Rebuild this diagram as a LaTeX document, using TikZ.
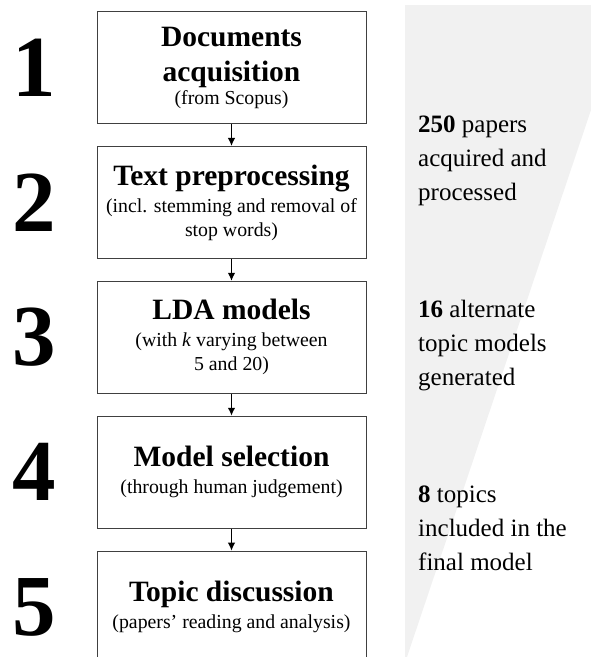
\documentclass[tikz,border=0pt]{standalone}
\usepackage{fontspec}
\setmainfont{Liberation Serif}
\usepackage{tikz}
\usetikzlibrary{arrows.meta,positioning}
\definecolor{bandgray}{HTML}{F1F1F1}
\newcommand{\steptitle}{\fontsize{29.5}{35}\selectfont\bfseries}
\newcommand{\stepsub}{\fontsize{19.8}{24}\selectfont\mdseries}
\tikzset{
  box/.style={draw=black!75, line width=0.9pt, align=center, inner sep=0pt, minimum width=269pt, minimum height=112pt, font=\steptitle},
  num/.style={inner sep=0pt, font=\fontsize{87}{87}\selectfont\bfseries},
  note/.style={inner sep=0pt, align=left, anchor=base west, font=\fontsize{25}{34}\selectfont},
  arrow/.style={-{Latex[length=8pt,width=7.5pt]}, line width=1.2pt},
}

\begin{document}
\begin{tikzpicture}[node distance=22pt]
  \useasboundingbox (0pt,0pt) rectangle (591pt,-657pt);
  % BACKGROUND BAND
  \fill[bandgray] (405pt,-5pt) -- (591pt,-5pt) -- (591pt,-110pt) -- (407pt,-657pt) -- (405pt,-657pt) -- cycle;

  % STEPS
  \node[box] (acq) at (231.5pt,-67.5pt) {Documents\\acquisition\\[-12pt]{\stepsub (from Scopus)}};
  \node[box, below=of acq] (prep) {Text preprocessing\\[-8pt]{\stepsub (incl. stemming and removal of}\\[-11pt]{\stepsub stop words)}};
  \node[box, below=of prep] (lda) {LDA models\\[-8pt]{\stepsub (with \textit{k} varying between}\\[-11pt]{\stepsub 5 and 20)}};
  \node[box, below=of lda] (sel) {Model selection\\[-8pt]{\stepsub (through human judgement)}};
  \node[box, below=of sel] (disc) {Topic discussion\\[-8pt]{\stepsub (papers’ reading and analysis)}};

  \draw[arrow] (acq) -- (prep);
  \draw[arrow] (prep) -- (lda);
  \draw[arrow] (lda) -- (sel);
  \draw[arrow] (sel) -- (disc);

  % NUMBERS
  \node[num, left=40pt of acq] (n1) {1};
  \node[num, left=40pt of prep] (n2) {2};
  \node[num, left=40pt of lda] (n3) {3};
  \node[num, left=40pt of sel] (n4) {4};
  \node[num, left=40pt of disc] (n5) {5};

  % OUTCOMES
  \node[note] (papers) at (418pt,-200pt) {\textbf{250} papers\\acquired and\\processed};
  \node[note] (models) at (418pt,-385pt) {\textbf{16} alternate\\topic models\\generated};
  \node[note] (topics) at (418pt,-570pt) {\textbf{8} topics\\included in the\\final model};
\end{tikzpicture}
\end{document}
